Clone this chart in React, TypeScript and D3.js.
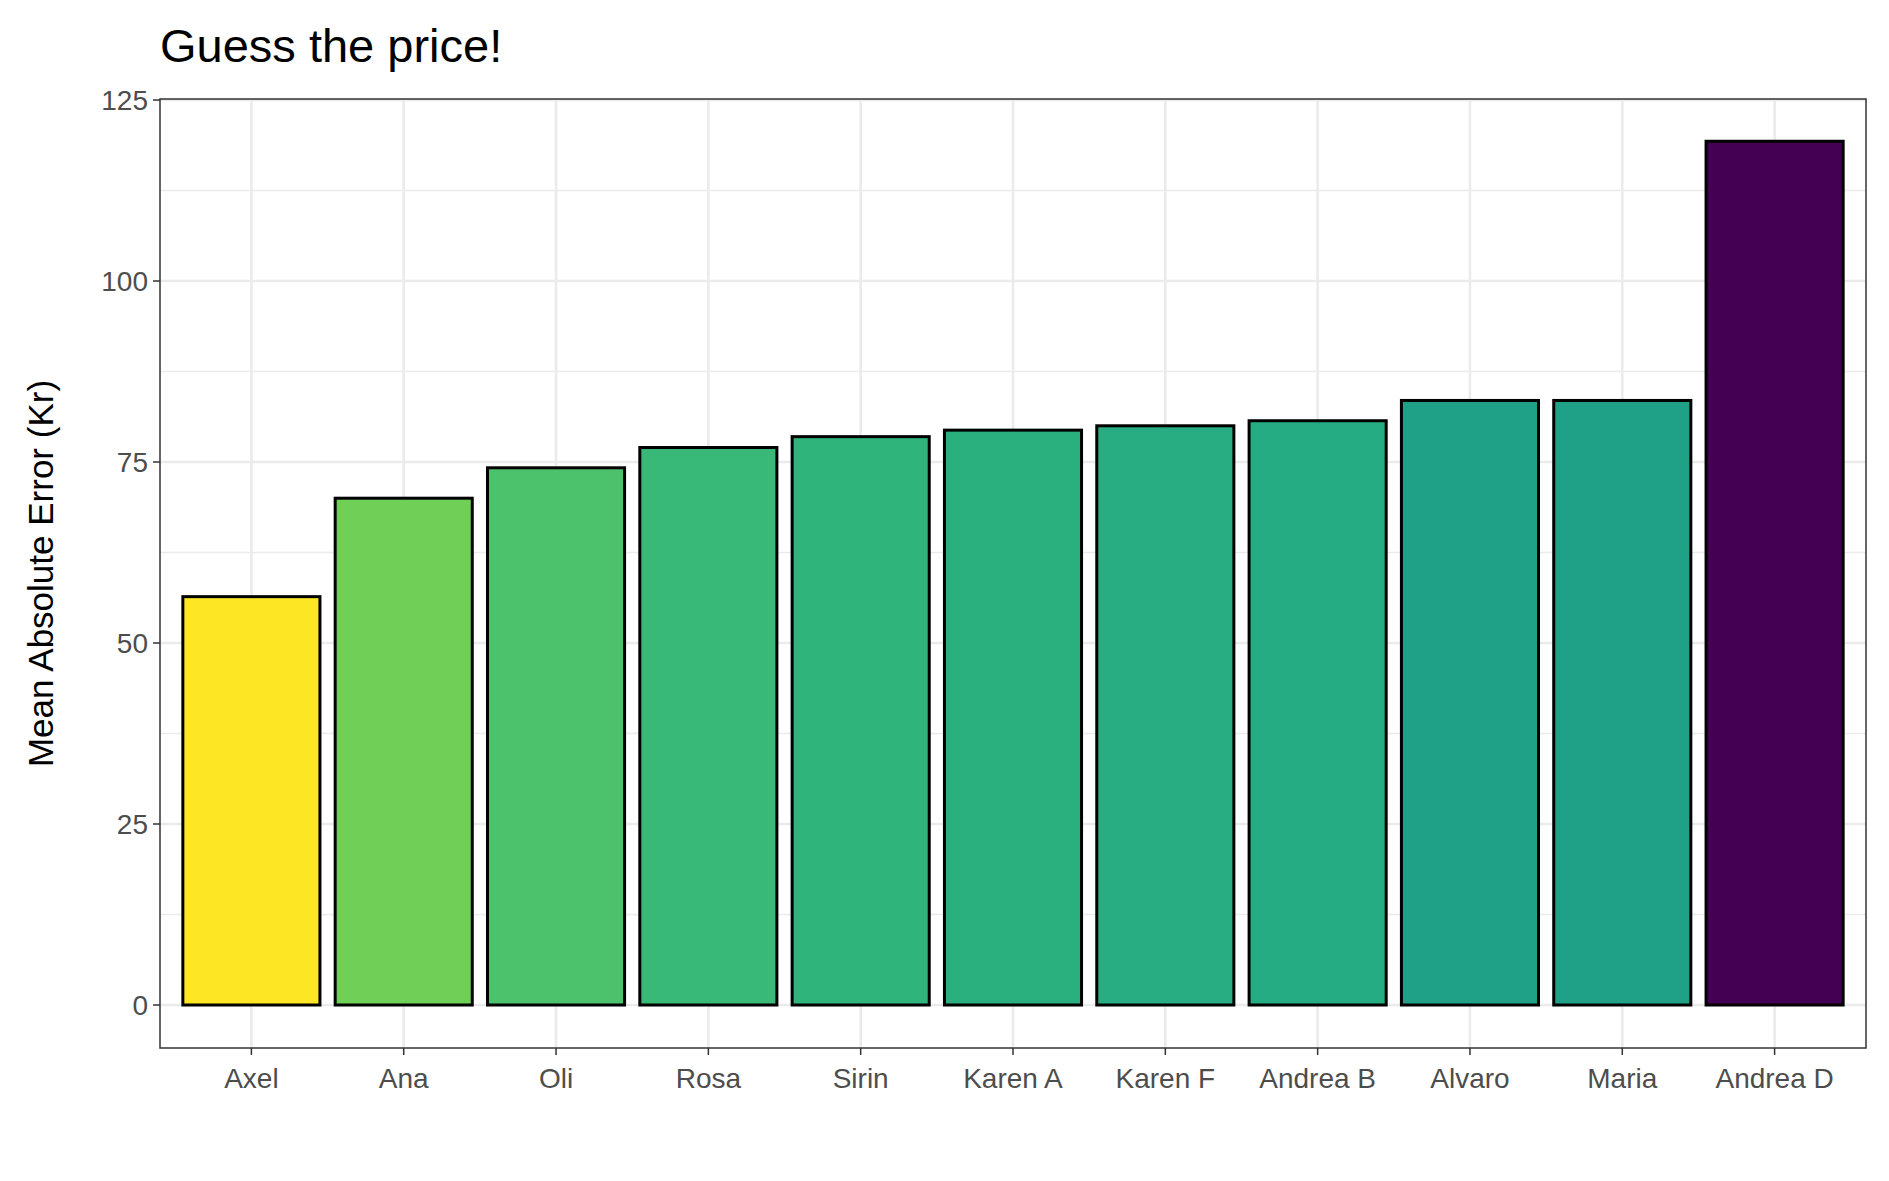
import React from 'react';
import * as d3 from 'd3';

const names = ['Axel', 'Ana', 'Oli', 'Rosa', 'Sirin', 'Karen A', 'Karen F', 'Andrea B', 'Alvaro', 'Maria', 'Andrea D'];
const errors = [56.4, 70.0, 74.2, 77.0, 78.5, 79.4, 80.0, 80.7, 83.5, 83.5, 119.3];
const yTicks = [0, 25, 50, 75, 100, 125];
const yMinor = [12.5, 37.5, 62.5, 87.5, 112.5];

const W = 1889, H = 1181;
const L = 160, R = 1866, T = 99, B = 1048;
const font = '"Liberation Sans", Arial, sans-serif';

const App: React.FC = () => {
  const x = d3.scaleLinear().domain([0.4, names.length + 0.6]).range([L, R]);
  const y = d3.scaleLinear().domain([0, 125]).range([1005, 100]);
  const [lo, hi] = d3.extent(errors) as [number, number];
  const color = (v: number) => d3.interpolateViridis(1 - (v - lo) / (hi - lo));
  const bw = x(1.45) - x(1);

  return (
    <svg width={W} height={H} style={{ display: 'block', margin: -8 }} fontFamily={font}>
      <rect width={W} height={H} fill="#fff" />
      <text x={L} y={62} fontSize={47} fill="#000">Guess the price!</text>
      {yMinor.map(t => <line key={'m' + t} x1={L} x2={R} y1={y(t)} y2={y(t)} stroke="#ebebeb" strokeWidth={1.3} />)}
      {yTicks.map(t => <line key={'g' + t} x1={L} x2={R} y1={y(t)} y2={y(t)} stroke="#ebebeb" strokeWidth={2.6} />)}
      {names.map((n, i) => <line key={'v' + n} x1={x(i + 1)} x2={x(i + 1)} y1={T} y2={B} stroke="#ebebeb" strokeWidth={2.6} />)}
      {names.map((n, i) => (
        <rect key={n} x={x(i + 1) - bw} y={y(errors[i])} width={bw * 2} height={y(0) - y(errors[i])}
          fill={color(errors[i])} stroke="#000" strokeWidth={3} />
      ))}
      <rect x={L} y={T} width={R - L} height={B - T} fill="none" stroke="#333" strokeWidth={1.5} />
      {yTicks.map(t => (
        <g key={'t' + t}>
          <line x1={L - 7} x2={L} y1={y(t)} y2={y(t)} stroke="#333" strokeWidth={1.5} />
          <text x={L - 12} y={y(t)} dy="0.35em" textAnchor="end" fontSize={28} fill="#4d4d4d">{t}</text>
        </g>
      ))}
      {names.map((n, i) => (
        <g key={'x' + n}>
          <line x1={x(i + 1)} x2={x(i + 1)} y1={B} y2={B + 7} stroke="#333" strokeWidth={1.5} />
          <text x={x(i + 1)} y={B + 40} textAnchor="middle" fontSize={28} fill="#4d4d4d">{n}</text>
        </g>
      ))}
      <text transform={`translate(53,${(T + B) / 2}) rotate(-90)`} textAnchor="middle" fontSize={35} fill="#000">
        Mean Absolute Error (Kr)
      </text>
    </svg>
  );
};

export default App;
